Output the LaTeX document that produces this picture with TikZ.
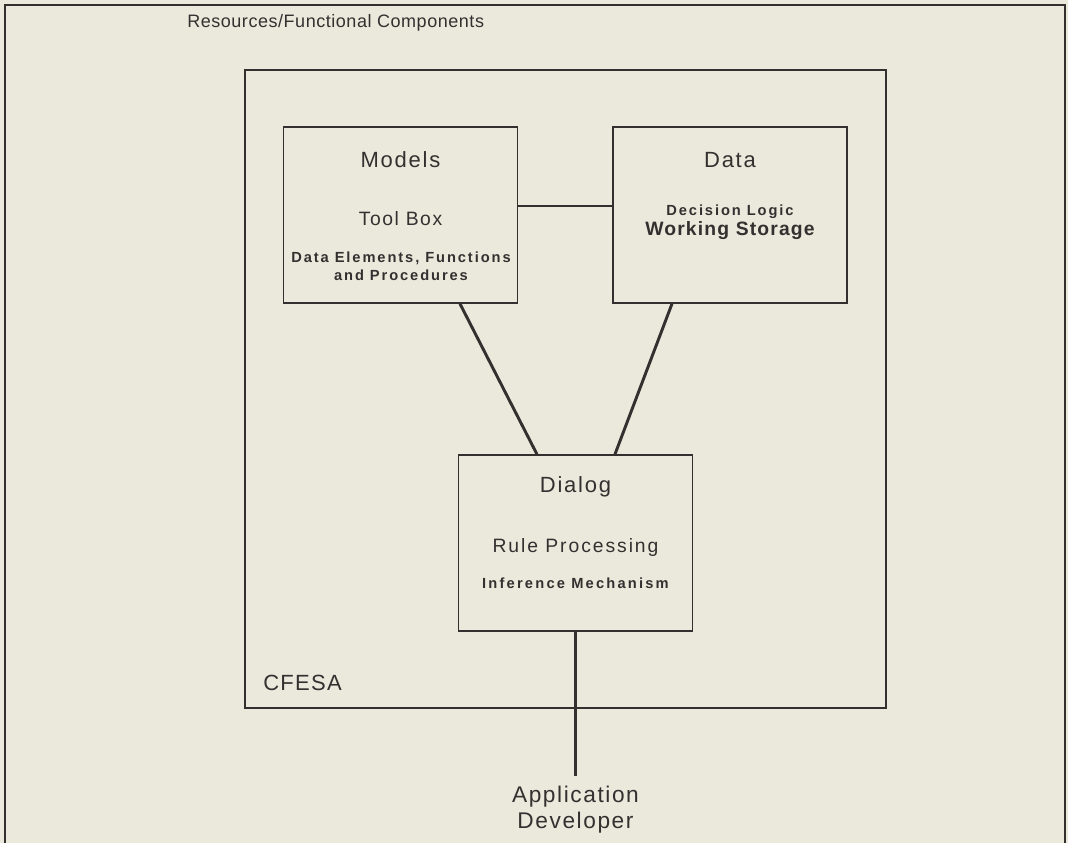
\documentclass[tikz,border=0pt]{standalone}
\usepackage{fontspec}
\setmainfont{Liberation Sans}
\definecolor{paper}{HTML}{EAE9DC}
\definecolor{ink}{HTML}{353030}
\newcommand{\ls}[1]{\addfontfeature{LetterSpace=#1}}
\begin{document}
\begin{tikzpicture}[x=0.75pt,y=-0.75pt,
  every node/.style={text=ink, inner sep=0pt},
  unit/.style={draw=ink, line width=1.1pt, minimum width=175.5pt, minimum height=132pt},
  link/.style={draw=ink, line width=2.2pt},
  head/.style={font=\fontsize{16.5}{18}\selectfont\ls{8}},
  mid/.style={font=\fontsize{14.5}{16}\selectfont\ls{8}},
  midb/.style={font=\fontsize{14.5}{16}\selectfont\bfseries\ls{6}},
  small/.style={font=\fontsize{11}{13.5}\selectfont\bfseries\ls{13}, align=center}]
  \useasboundingbox (0,0) rectangle (1068,843);
  \fill[paper] (0,0) rectangle (1068,843);
  % outer frame, open at the bottom
  \draw[ink, line width=1.8pt] (5,843) -- (5,5) -- (1065,5) -- (1065,843);
  \node (title) [font=\fontsize{13.5}{15}\selectfont\ls{3}, anchor=west] at (187,23) {Resources/Functional Components};

  % the CFESA boundary
  \node (cfesa) [draw=ink, line width=1.1pt, minimum width=480.75pt, minimum height=478.5pt] at (565.5,389) {};
  \node (cfesalbl) [font=\fontsize{16.5}{18}\selectfont\ls{6}, anchor=west] at (263,683) {CFESA};

  % the three components
  \node (models) [unit] at (400.5,215) {};
  \node (data)   [unit] at (730,215) {};
  \node (dialog) [unit] at (575.5,543) {};

  \node (modelsT) [head] at (400.5,160) {Models};
  \node (toolbox) [mid] at (400.5,219) {Tool Box};
  \node (elems) [small] at (401,266) {Data Elements, Functions\\and Procedures};

  \node (dataT) [head] at (730,160) {Data};
  \node (logic) [small] at (730,212) {Decision Logic};
  \node (storage) [midb] at (730,231) {Working Storage};

  \node (dialogT) [head] at (575.5,487) {Dialog};
  \node (rules) [mid, font=\fontsize{14.5}{16}\selectfont\ls{10}] at (575.5,547) {Rule Processing};
  \node (infer) [small, font=\fontsize{11}{13.5}\selectfont\bfseries\ls{15}] at (575.5,583) {Inference Mechanism};

  % connectors
  \draw[link] ([yshift=6.75pt]models.east) -- ([yshift=6.75pt]data.west);
  \draw[link] ([xshift=44.6pt]models.south) -- ([xshift=-28.9pt]dialog.north);
  \draw[link] ([xshift=-43.5pt]data.south) -- ([xshift=29.6pt]dialog.north);

  \node (dev) [font=\fontsize{17}{19}\selectfont\ls{7}, align=center, anchor=north] at (575.5,786) {Application\\Developer};
  \coordinate (devtop) at (575.5,776);
  \draw[link] (dialog.south) -- (devtop);
\end{tikzpicture}
\end{document}
